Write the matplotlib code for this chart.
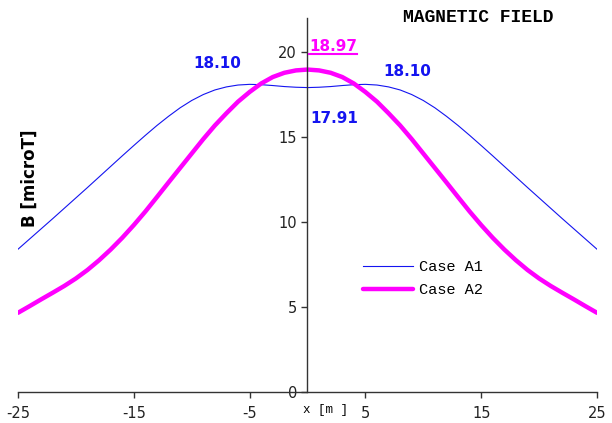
import numpy as np
import matplotlib
matplotlib.use('Agg')
import matplotlib.pyplot as plt
from matplotlib.lines import Line2D

plt.rcParams['axes.unicode_minus'] = False

# distance from the line axis [m]
x = list(range(-25, 26))

# field along the profile [microT]
case_a1 = [8.40, 9.00, 9.60, 10.20, 10.81, 11.42, 12.03, 12.65, 13.27, 13.89,
           14.50, 15.10, 15.68, 16.22, 16.72, 17.15, 17.50, 17.77, 17.95, 18.06,
           18.10, 18.08, 18.03, 17.97, 17.93, 17.91, 17.93, 17.97, 18.03, 18.08,
           18.10, 18.06, 17.95, 17.77, 17.50, 17.15, 16.72, 16.22, 15.68, 15.10,
           14.50, 13.89, 13.27, 12.65, 12.03, 11.42, 10.81, 10.20, 9.60, 9.00, 8.40]
case_a2 = [4.66, 5.05, 5.45, 5.84, 6.24, 6.68, 7.18, 7.75, 8.38, 9.07,
           9.82, 10.62, 11.47, 12.33, 13.18, 14.03, 14.88, 15.68, 16.40, 17.08,
           17.65, 18.15, 18.53, 18.78, 18.92, 18.97, 18.92, 18.78, 18.53, 18.15,
           17.65, 17.08, 16.40, 15.68, 14.88, 14.03, 13.18, 12.33, 11.47, 10.62,
           9.82, 9.07, 8.38, 7.75, 7.18, 6.68, 6.24, 5.84, 5.45, 5.05, 4.66]

labels = ['Case A1', 'Case A2']
xticks = [-25, -15, -5, 5, 15, 25]
yticks = [0, 5, 10, 15, 20]

blue = '#1414f0'
magenta = '#ff00ff'

fig = plt.figure(figsize=(6.12, 4.23), dpi=100)
ax = fig.add_axes([0.0294, 0.0733, 0.9461, 0.884])

ax.plot(x, case_a1, color=blue, lw=0.8, label=labels[0])
ax.plot(x, case_a2, color=magenta, lw=3.2, label=labels[1],
        solid_capstyle='round')

ax.set_xlim(-25, 25)
ax.set_ylim(0, 22)
ax.set_xticks(xticks)
ax.set_yticks(yticks)

# axes cross at the origin
ax.spines['left'].set_position(('data', 0))
ax.spines['bottom'].set_position(('data', 0))
ax.spines['top'].set_visible(False)
ax.spines['right'].set_visible(False)
for s in ('left', 'bottom'):
    ax.spines[s].set_color('#333333')
    ax.spines[s].set_linewidth(1.0)
ax.tick_params(direction='out', length=4, width=1, color='#333333',
               labelsize=10.5, labelcolor='#222222')
ax.tick_params(axis='x', pad=6)

ax.text(-0.4, -1.05, 'x [m ]', family='Liberation Mono', fontsize=9,
        ha='left', va='center', clip_on=False)
fig.text(0.049, 0.578, 'B [microT]', rotation=90, fontsize=12,
         fontweight='bold', ha='center', va='center')
fig.text(0.782, 0.958, 'MAGNETIC FIELD', family='Liberation Mono',
         fontweight='bold', fontsize=13, ha='center', va='center')

# peak and centre values
i_peak = case_a1.index(max(case_a1))
i_mid = x.index(0)
ax.text(-7.8, 19.3, '%.2f' % case_a1[i_peak], color=blue, fontsize=11,
        fontweight='bold', ha='center', va='center')
ax.text(8.6, 18.85, '%.2f' % case_a1[-1 - i_peak], color=blue, fontsize=11,
        fontweight='bold', ha='center', va='center')
ax.text(2.3, 16.1, '%.2f' % case_a1[i_mid], color=blue, fontsize=11,
        fontweight='bold', ha='center', va='center')
t = ax.text(0.15, 20.3, '%.2f' % case_a2[i_mid], color=magenta, fontsize=11,
            fontweight='bold', ha='left', va='center')

# underline below the centre value of case A2
fig.canvas.draw()
bb = t.get_window_extent().transformed(fig.transFigure.inverted())
fig.add_artist(Line2D([bb.x0, bb.x1], [bb.y0, bb.y0],
                      color=magenta, lw=1.5, transform=fig.transFigure))

leg = ax.legend(loc='upper left', bbox_to_anchor=(0.572, 0.39), frameon=False,
                prop={'family': 'Liberation Mono', 'size': 11},
                handlelength=3.3, handletextpad=0.35, labelspacing=0.6)

fig.savefig('out.png', dpi=100)
